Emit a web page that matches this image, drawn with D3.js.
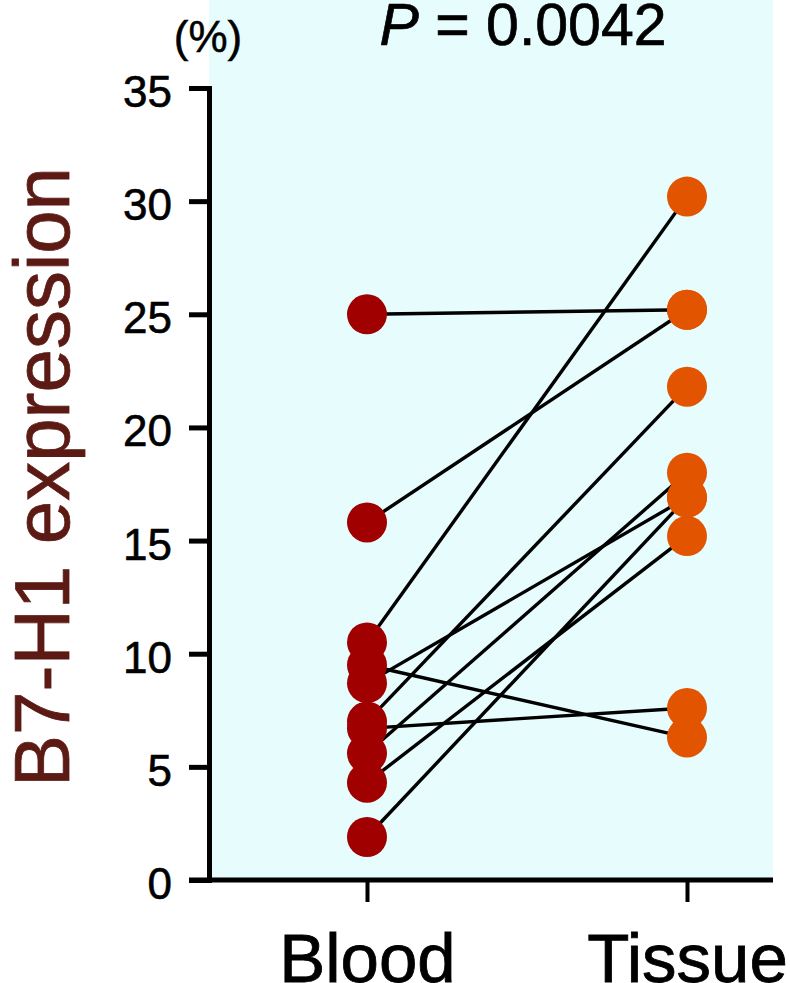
<!DOCTYPE html>
<html>
<head>
<meta charset="utf-8">
<script src="https://cdnjs.cloudflare.com/ajax/libs/d3/7.8.5/d3.min.js"></script>
<style>
  body { margin: 0; background: #fff; }
  svg { display: block; font-family: "Liberation Sans", Arial, Helvetica, sans-serif; }
</style>
</head>
<body>
<svg id="chart" width="790" height="983"></svg>
<script>
// Paired samples: one blood value and one tissue value per patient
var groups = ["Blood", "Tissue"];
var bloodValues  = [25.0, 15.8, 10.5, 9.5, 8.7, 7.0, 6.7, 5.6, 4.3, 1.9];
var tissueValues = [25.2, 25.2, 30.2, 6.3, 16.9, 21.8, 7.6, 18.0, 15.2, 16.9];
var yTicks = [0, 5, 10, 15, 20, 25, 30, 35];
var yTitle = "B7-H1 expression";
var unitLabel = "(%)";
var pValue = "0.0042";

var colors = { Blood: "#a10000", Tissue: "#e25400" };

var svg = d3.select("#chart");

// Plot frame
var frame = { left: 209, right: 773, top: 88, bottom: 880 };

var x = d3.scalePoint().domain(groups).range([367, 687]);
var y = d3.scaleLinear().domain([0, 35]).range([frame.bottom, frame.top]);

// Background panel
svg.append("rect")
  .attr("x", frame.left)
  .attr("y", 0)
  .attr("width", frame.right - frame.left)
  .attr("height", frame.bottom)
  .attr("fill", "#e6fcfd");

var pairs = bloodValues.map(function(b, i) {
  return { blood: b, tissue: tissueValues[i] };
});

// Connecting lines
svg.append("g").selectAll("line")
  .data(pairs)
  .join("line")
  .attr("x1", x("Blood"))
  .attr("y1", d => y(d.blood))
  .attr("x2", x("Tissue"))
  .attr("y2", d => y(d.tissue))
  .attr("stroke", "#000")
  .attr("stroke-width", 3.4);

// Points
var pts = [];
pairs.forEach(function(p) {
  pts.push({ g: "Blood", v: p.blood });
  pts.push({ g: "Tissue", v: p.tissue });
});

svg.append("g").selectAll("circle")
  .data(pts)
  .join("circle")
  .attr("cx", d => x(d.g))
  .attr("cy", d => y(d.v))
  .attr("r", 20)
  .attr("fill", d => colors[d.g]);

// Y axis
var yAxis = svg.append("g")
  .attr("transform", `translate(${frame.left},0)`)
  .call(d3.axisLeft(y).tickValues(yTicks).tickSize(20).tickSizeOuter(20).tickPadding(17));

yAxis.selectAll("path, line")
  .attr("stroke", "#000")
  .attr("stroke-width", 5);
yAxis.selectAll("text")
  .attr("font-size", 44)
  .attr("font-family", "Liberation Sans, Arial, sans-serif")
  .attr("fill", "#000")
  .attr("stroke", "#000")
  .attr("stroke-width", 0.6)
  .attr("dy", "0.42em");

// X axis baseline and ticks
svg.append("line")
  .attr("x1", frame.left - 20)
  .attr("x2", frame.right)
  .attr("y1", frame.bottom)
  .attr("y2", frame.bottom)
  .attr("stroke", "#000")
  .attr("stroke-width", 5);

var xAxis = svg.append("g")
  .attr("transform", `translate(0,${frame.bottom})`)
  .call(d3.axisBottom(x).tickSize(22).tickSizeOuter(0).tickPadding(31));
xAxis.select(".domain").remove();
xAxis.selectAll("line")
  .attr("stroke", "#000")
  .attr("stroke-width", 4);
xAxis.selectAll("text")
  .attr("font-size", 69)
  .attr("font-family", "Liberation Sans, Arial, sans-serif")
  .attr("fill", "#000")
  .attr("stroke", "#000")
  .attr("stroke-width", 0.8)
  .attr("dy", "0.71em");

// Unit label
svg.append("text")
  .attr("x", 208)
  .attr("y", 52)
  .attr("text-anchor", "middle")
  .attr("font-size", 44)
  .attr("stroke", "#000")
  .attr("stroke-width", 0.5)
  .text(unitLabel);

// P value
var pt = svg.append("text")
  .attr("x", 523)
  .attr("y", 45)
  .attr("text-anchor", "middle")
  .attr("font-size", 59)
  .attr("stroke", "#000")
  .attr("stroke-width", 0.7);
pt.append("tspan").attr("font-style", "italic").text("P");
pt.append("tspan").text(" = " + pValue);

// Y axis title
svg.append("text")
  .attr("transform", "translate(69,477) rotate(-90)")
  .attr("text-anchor", "middle")
  .attr("font-size", 78)
  .attr("fill", "#5c1a14")
  .attr("stroke", "#5c1a14")
  .attr("stroke-width", 0.8)
  .text(yTitle);
</script>
</body>
</html>
